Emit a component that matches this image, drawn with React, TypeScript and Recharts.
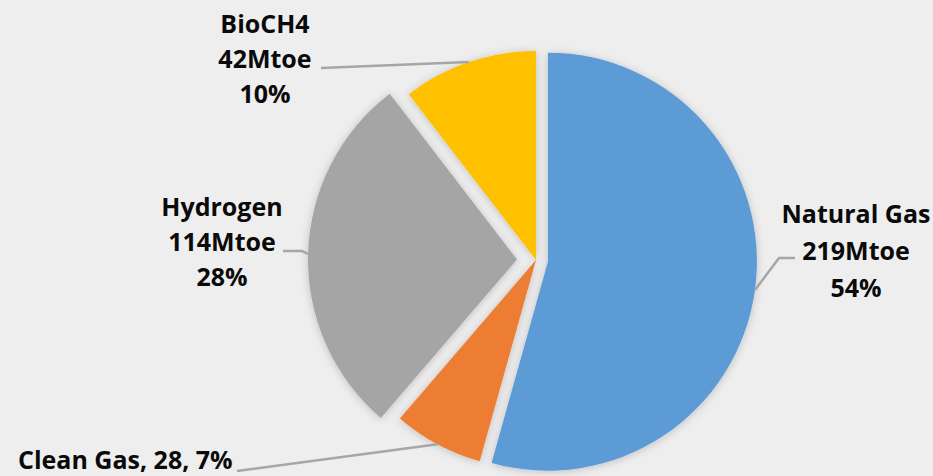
import { PieChart, Pie, Cell } from 'recharts';

const categories = ['Natural Gas', 'Clean Gas', 'Hydrogen', 'BioCH4'];
const values = [219, 28, 114, 42];
const unit = 'Mtoe';

const colors = ['#5B9BD5', '#ED7D31', '#A5A5A5', '#FFC000'];
// how far each slice is pulled out of the pie, px
const explode = [12, 0, 19, 0];

const CX = 536;
const CY = 260;
const RADIUS = 209;

// hand placed data labels, like the original
const labelLayout = [
  { x: 856, y: 214, anchor: 'middle', gap: 37, leader: [[795, 258], [779, 258]] },
  { x: 18, y: 460, anchor: 'start', gap: 0, leader: [[237, 471]] },
  { x: 222, y: 207, anchor: 'middle', gap: 35, leader: [[283, 251], [302, 251]] },
  { x: 265, y: 24, anchor: 'middle', gap: 35, leader: [[321, 68]] },
];

const RAD = Math.PI / 180;
const total = values.reduce((a, b) => a + b, 0);
const data = categories.map((name, i) => ({ name, value: values[i] }));

// centre of each exploded slice
const centres = values.map((v, i) => {
  const before = values.slice(0, i).reduce((a, b) => a + b, 0);
  const mid = ((before + v / 2) / total) * 360;
  return {
    cx: CX + explode[i] * Math.sin(mid * RAD),
    cy: CY - explode[i] * Math.cos(mid * RAD),
  };
});

function makeLabel(k: number) {
  return (props: any) => {
    if (props.index !== k) return null;
    const { cx, cy, midAngle, outerRadius, percent, name, value } = props;
    const ax = cx + outerRadius * Math.cos(-midAngle * RAD);
    const ay = cy + outerRadius * Math.sin(-midAngle * RAD);
    const layout = labelLayout[k];
    const pct = Math.round(percent * 100);
    const lines =
      layout.gap === 0
        ? [`${name}, ${value}, ${pct}%`]
        : [name, `${value}${unit}`, `${pct}%`];
    const pts = [...layout.leader, [ax, ay]].map((p) => p.join(',')).join(' ');
    return (
      <g>
        <polyline points={pts} fill="none" stroke="#a6a6a6" strokeWidth={2.5} />
        {lines.map((t, j) => (
          <text
            key={j}
            x={layout.x}
            y={layout.y + j * layout.gap + 9}
            textAnchor={layout.anchor as any}
            fill="#0a0a0a"
            fontSize={25}
            fontWeight={700}
            fontFamily="'Open Sans', sans-serif"
          >
            {t}
          </text>
        ))}
      </g>
    );
  };
}

export default function App() {
  return (
    <div
      style={{
        position: 'fixed',
        left: 0,
        top: 0,
        width: 933,
        height: 476,
        background: '#eeeeee',
      }}
    >
      <style>{'.recharts-pie-sector { filter: url(#sliceGlow); }'}</style>
      <svg width={0} height={0} style={{ position: 'absolute' }}>
        <defs>
          <filter id="sliceGlow" x="-20%" y="-20%" width="140%" height="140%">
            <feDropShadow dx={0} dy={1} stdDeviation={4} floodColor="#000" floodOpacity={0.2} />
          </filter>
        </defs>
      </svg>
      <PieChart width={933} height={476} margin={{ top: 0, right: 0, bottom: 0, left: 0 }}>
        {centres.map((c, k) => (
          <Pie
            key={k}
            data={data}
            dataKey="value"
            nameKey="name"
            cx={c.cx}
            cy={c.cy}
            outerRadius={RADIUS}
            startAngle={90}
            endAngle={-270}
            stroke="none"
            label={makeLabel(k)}
            labelLine={false}
            isAnimationActive={false}
          >
            {data.map((d, i) => (
              <Cell key={d.name} fill={i === k ? colors[i] : 'none'} stroke="none" />
            ))}
          </Pie>
        ))}
      </PieChart>
    </div>
  );
}
